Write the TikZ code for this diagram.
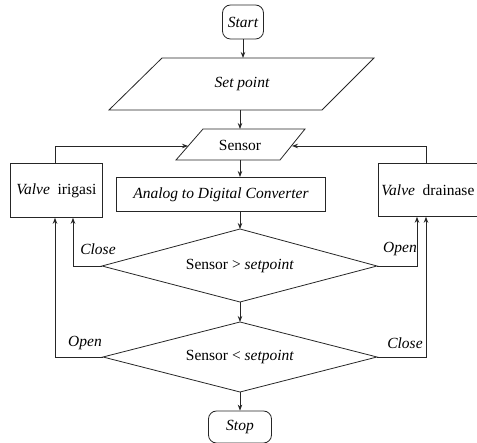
\documentclass[tikz,border=0pt]{standalone}
\usepackage{fontspec}
\setmainfont{Liberation Serif}
\usetikzlibrary{arrows.meta}
\begin{document}
\begin{tikzpicture}[x=1pt,y=-1pt,
  line/.style={draw=black!85, line width=0.8pt},
  arr/.style={line, -{Stealth[length=6pt,width=4.5pt]}},
  txt/.style={inner sep=0pt, font=\fontsize{15.5}{18}\selectfont},
  term/.style={line, rounded corners=8pt, inner sep=0pt, font=\fontsize{15.5}{18}\selectfont}]
\useasboundingbox (0,0) rectangle (477,443);
% terminals
\node[term, minimum width=41pt, minimum height=34pt] (start) at (243,22) {\itshape Start};
\node[term, minimum width=63pt, minimum height=32pt] (stop) at (240,427) {\itshape Stop};
% set point
\draw[line] (162,58) -- (374,58) -- (322,110) -- (109,110) -- cycle;
\node[txt] (sp) at (242,84) {\itshape Set point};
\coordinate (spT) at (243,58);
\coordinate (spB) at (240,110);
% sensor
\draw[line] (203,129) -- (305,129) -- (280,160) -- (176,160) -- cycle;
\node[txt] (sensor) at (240,145) {Sensor};
\coordinate (snT) at (240,129);
\coordinate (snB) at (240,160);
\coordinate (snL) at (188,146);
\coordinate (snR) at (292,146);
% valves
\node[line, minimum width=92pt, minimum height=54pt, inner sep=0pt, font=\fontsize{15.5}{18}\selectfont, anchor=north west] (vi) at (10,163) {\textit{Valve}\ \ irigasi};
\node[line, minimum width=99pt, minimum height=53pt, inner sep=0pt, font=\fontsize{15.5}{18}\selectfont, anchor=north west] (vd) at (378,163) {\textit{Valve}\ \ drainase};
% ADC
\node[line, minimum width=209pt, minimum height=34pt, inner sep=0pt, font=\fontsize{15.5}{18}\selectfont, anchor=north west] (adc) at (116,177) {\itshape Analog to Digital Converter};
% diamond 1
\draw[line] (240,229) -- (377,266) -- (240,302) -- (102,266) -- cycle;
\node[txt] (d1) at (240,266) {Sensor > \textit{setpoint}};
\coordinate (d1T) at (240,229);
\coordinate (d1B) at (240,302);
\coordinate (d1L) at (102,266);
\coordinate (d1R) at (377,266);
% diamond 2
\draw[line] (240,322) -- (377,357) -- (240,392) -- (103,357) -- cycle;
\node[txt] (d2) at (240,357) {Sensor < \textit{setpoint}};
\coordinate (d2T) at (240,322);
\coordinate (d2B) at (240,392);
\coordinate (d2L) at (103,357);
\coordinate (d2R) at (377,357);
% main flow
\draw[arr] (start.south -| spT) -- (spT);
\draw[arr] (spB) -- (snT);
\draw[arr] (snB) -- (adc.north -| snB);
\draw[arr] (adc.south -| d1T) -- (d1T);
\draw[arr] (d1B) -- (d2T);
\draw[arr] (d2B) -- (stop.north -| d2B);
% feedback to sensor
\draw[arr] (vi.north -| 55,0) -- (55,146) -- (snL);
\draw[arr] (vd.north -| 426,0) -- (426,146) -- (snR);
% decision branches
\draw[arr] (d1L) -- (73,266) -- (vi.south -| 73,0);
\draw[arr] (d1R) -- (417,266) -- (vd.south -| 417,0);
\draw[arr] (d2L) -- (55,357) -- (vi.south -| 55,0);
\draw[arr] (d2R) -- (426,357) -- (vd.south -| 426,0);
% labels
\node[txt] (l1) at (98,249) {\itshape Close};
\node[txt] (l2) at (400,249) {\itshape Open};
\node[txt] (l3) at (85,343) {\itshape Open};
\node[txt] (l4) at (405,343) {\itshape Close};
\end{tikzpicture}
\end{document}
